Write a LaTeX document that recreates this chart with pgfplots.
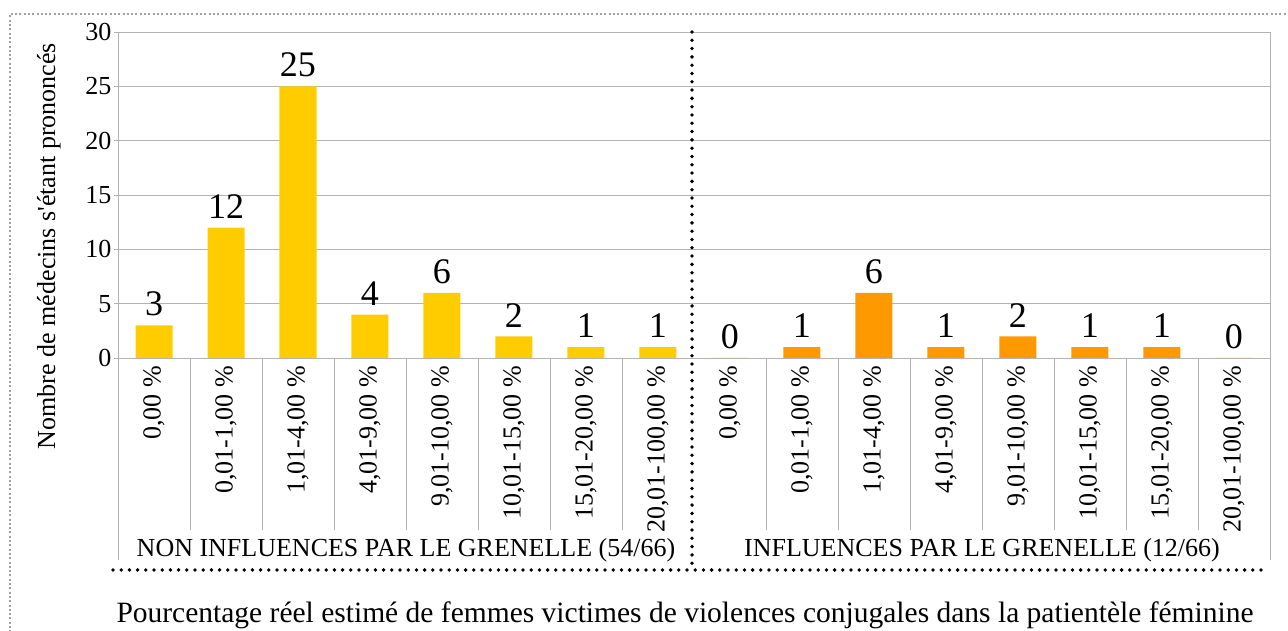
\documentclass[border=0pt]{standalone}
\usepackage{fontspec}
\setmainfont{Liberation Serif}
\newfontfamily\plainfont{Liberation Serif}
\usepackage{pgfplots}
\pgfplotsset{compat=1.18}
\definecolor{barY}{HTML}{FFCC00}
\definecolor{barO}{HTML}{FF9900}
\definecolor{gridc}{HTML}{B3B3B3}
\definecolor{bordc}{HTML}{A0A0A0}
\begin{document}
\begin{tikzpicture}[x=1pt,y=1pt]
\useasboundingbox (0,0) rectangle (1288,631);
\draw[bordc, line width=1.8pt, dash pattern=on 2pt off 2.3pt] (10,-10) -- (10,617) -- (1300,617);
\begin{axis}[
  at={(118pt,273pt)}, anchor=south west,
  scale only axis, width=1152pt, height=326pt,
  xmin=0, xmax=16, ymin=0, ymax=30,
  ytick={0,5,...,30}, ymajorgrids,
  grid style={gridc, line width=0.9pt},
  axis line style={gridc, line width=0.9pt},
  ytick style={gridc, line width=0.9pt},
  major tick length=4.5pt, tick align=outside, ytick pos=left,
  xtick={0.5,1.5,...,15.5},
  xticklabels={{0,00 \%},{0,01-1,00 \%},{1,01-4,00 \%},{4,01-9,00 \%},{9,01-10,00 \%},{10,01-15,00 \%},{15,01-20,00 \%},{20,01-100,00 \%},
               {0,00 \%},{0,01-1,00 \%},{1,01-4,00 \%},{4,01-9,00 \%},{9,01-10,00 \%},{10,01-15,00 \%},{15,01-20,00 \%},{20,01-100,00 \%}},
  xtick style={draw=none},
  xticklabel style={rotate=90, anchor=east, font=\fontsize{26}{26}\selectfont},
  yticklabel style={font=\fontsize{26}{26}\selectfont, inner sep=2pt},
  /pgf/number format/assume math mode=true,
  ybar, bar width=37pt, clip=false,
  nodes near coords,
  every node near coord/.append style={font=\fontsize{36}{36}\selectfont, anchor=south, inner sep=0pt, yshift=9pt, text=black},
]
\addplot[fill=barY, draw=none, bar shift=0pt] coordinates {(0.5,3) (1.5,12) (2.5,25) (3.5,4) (4.5,6) (5.5,2) (6.5,1) (7.5,1)};
\addplot[fill=barO, draw=none, bar shift=0pt] coordinates {(8.5,0) (9.5,1) (10.5,6) (11.5,1) (12.5,2) (13.5,1) (14.5,1) (15.5,0)};
\pgfplotsinvokeforeach{1,2,3,4,5,6,7,9,10,11,12,13,14,15}{\draw[gridc, line width=0.9pt] (axis cs:#1,0) -- ++(0pt,-172pt);}
\draw[gridc, line width=0.9pt] (axis cs:0,0) -- ++(0pt,-202pt);
\draw[gridc, line width=0.9pt] (axis cs:16,0) -- ++(0pt,-202pt);
\end{axis}
\draw[black, line width=3.8pt, line cap=round, dash pattern=on 0pt off 8.3pt] (692,599) -- (692,63);
\draw[black, line width=3.8pt, line cap=round, dash pattern=on 0pt off 8.2pt] (113,61) -- (1265,61);
\node[anchor=base, font=\fontsize{26}{26}\selectfont, inner sep=0pt] at (406,74) {NON INFLUENCES PAR LE GRENELLE (54/66)};
\node[anchor=base, font=\fontsize{26}{26}\selectfont, inner sep=0pt] at (982,74) {INFLUENCES PAR LE GRENELLE (12/66)};
\node[anchor=base, font=\fontsize{29.5}{29.5}\selectfont, inner sep=0pt] at (685,8) {Pourcentage réel estimé de femmes victimes de violences conjugales dans la patientèle féminine};
\node[anchor=base, rotate=90, font=\fontsize{26}{26}\selectfont, inner sep=0pt] at (55,385) {Nombre de médecins s{\plainfont '}étant prononcés};
\end{tikzpicture}
\end{document}
